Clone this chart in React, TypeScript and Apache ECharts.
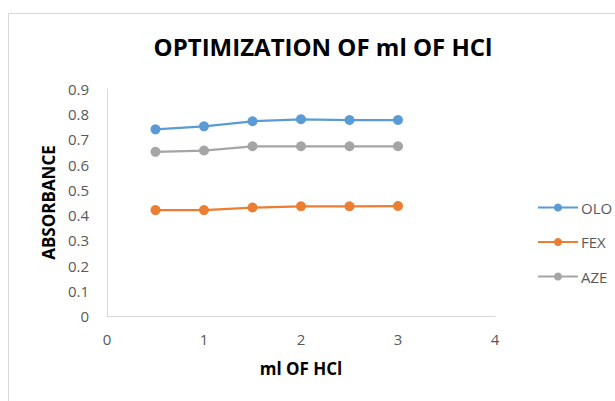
import React, { useEffect, useRef } from "react";
import * as echarts from "echarts";

// ml of HCl added
const hclMl = [0.5, 1, 1.5, 2, 2.5, 3];

// Absorbance readings per drug
const oloAbs = [0.74, 0.752, 0.772, 0.78, 0.777, 0.777];
const fexAbs = [0.42, 0.42, 0.43, 0.435, 0.435, 0.436];
const azeAbs = [0.651, 0.656, 0.673, 0.673, 0.673, 0.673];

const seriesNames = ["OLO", "FEX", "AZE"];
const seriesColors = ["#5B9BD5", "#ED7D31", "#A5A5A5"];

const FONT = "'Open Sans', 'Noto Sans', sans-serif";

export default function App() {
  const ref = useRef<HTMLDivElement>(null);

  useEffect(() => {
    if (!ref.current) return;
    const chart = echarts.init(ref.current, null, { renderer: "svg" });
    const values = [oloAbs, fexAbs, azeAbs];

    chart.setOption({
      animation: false,
      backgroundColor: "#ffffff",
      title: {
        text: "OPTIMIZATION OF ml OF HCl",
        left: 318,
        top: 29,
        textAlign: "center",
        textStyle: { fontFamily: FONT, fontSize: 24, fontWeight: "bold", color: "#000000" },
      },
      graphic: [
        {
          type: "rect",
          shape: { x: 8.5, y: 13.5, width: 700, height: 500 },
          style: { fill: "none", stroke: "#d9d9d9", lineWidth: 1 },
          silent: true,
        },
      ],
      legend: {
        orient: "vertical",
        left: 532,
        top: 195,
        itemWidth: 40,
        itemHeight: 10,
        itemGap: 19.5,
        data: seriesNames,
        textStyle: { fontFamily: FONT, fontSize: 15, color: "#595959", padding: [0, 0, 0, -2] },
      },
      grid: { left: 107, right: 120, top: 89, bottom: 85 },
      xAxis: {
        type: "value",
        min: 0,
        max: 4,
        interval: 1,
        name: "ml OF HCl",
        nameLocation: "middle",
        nameGap: 44,
        nameTextStyle: { fontFamily: FONT, fontSize: 17, fontWeight: "bold", color: "#000000" },
        axisLine: { show: true, lineStyle: { color: "#d9d9d9", width: 1 } },
        axisTick: { show: false },
        splitLine: { show: false },
        axisLabel: { fontFamily: FONT, fontSize: 15, color: "#595959", margin: 15 },
      },
      yAxis: {
        type: "value",
        min: 0,
        max: 0.9,
        interval: 0.1,
        name: "ABSORBANCE",
        nameLocation: "middle",
        nameGap: 50,
        nameTextStyle: { fontFamily: FONT, fontSize: 17, fontWeight: "bold", color: "#000000" },
        axisLine: { show: true, lineStyle: { color: "#d9d9d9", width: 1 } },
        axisTick: { show: false },
        splitLine: { show: false },
        axisLabel: {
          fontFamily: FONT,
          fontSize: 15,
          color: "#595959",
          margin: 18,
          formatter: (v: number) => String(Math.round(v * 10) / 10),
        },
      },
      series: seriesNames.map((name, i) => ({
        name,
        type: "line",
        data: hclMl.map((x, j) => [x, values[i][j]]),
        symbol: "circle",
        symbolSize: 10,
        lineStyle: { width: 2.25, color: seriesColors[i] },
        itemStyle: { color: seriesColors[i] },
      })),
    });

    return () => chart.dispose();
  }, []);

  return (
    <div
      ref={ref}
      style={{ position: "absolute", left: 0, top: 0, width: 615, height: 401 }}
    />
  );
}
